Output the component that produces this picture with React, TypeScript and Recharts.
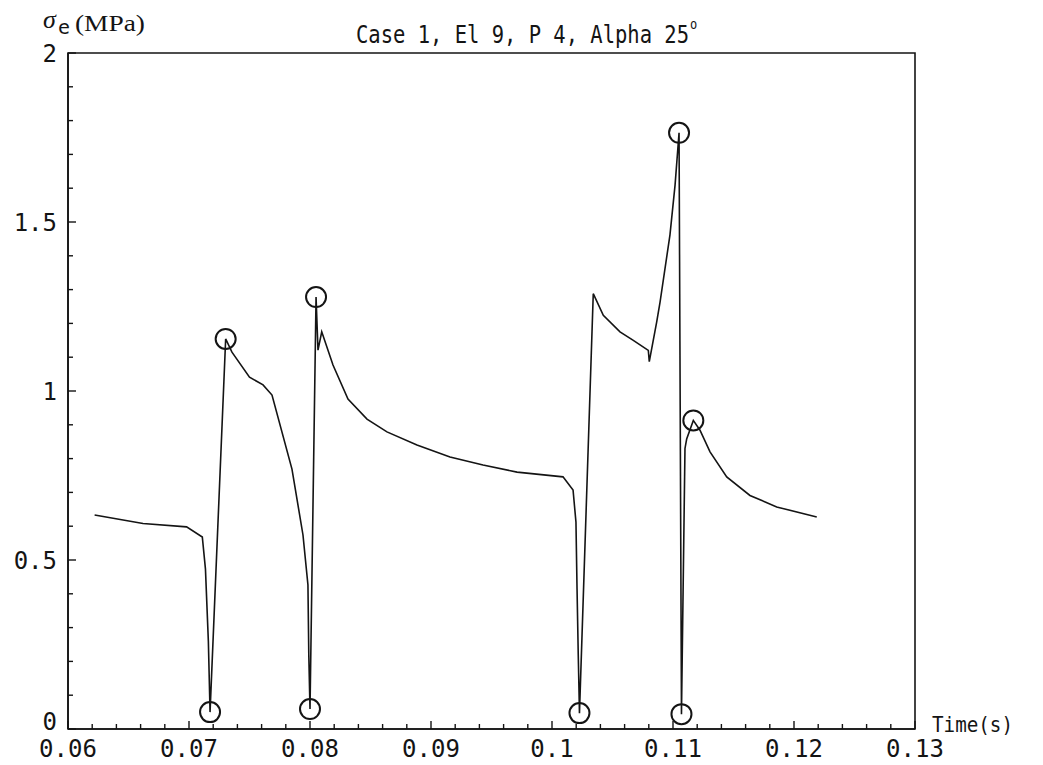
import React from 'react';
import {
  ComposedChart,
  Line,
  Scatter,
  XAxis,
  YAxis,
  ReferenceArea,
} from 'recharts';

// Effective stress history
const timeS = [
  0.0622, 0.0662, 0.0698, 0.0711, 0.07136, 0.0716, 0.07174, 0.07303, 0.07355, 0.075,
  0.07612, 0.07686, 0.07851, 0.07942, 0.07983, 0.0799, 0.08, 0.0805, 0.08066, 0.08097,
  0.0819, 0.08314, 0.08471, 0.08636, 0.08884, 0.09157, 0.0943, 0.09711, 0.10091, 0.10174,
  0.10198, 0.10207, 0.10217, 0.10227, 0.10341, 0.10424, 0.10562, 0.10672, 0.10796, 0.10804,
  0.10865, 0.10893, 0.10975, 0.11017, 0.1105, 0.1107, 0.11099, 0.11113, 0.11168, 0.11223,
  0.11306, 0.11444, 0.11636, 0.11857, 0.12188,
];
const stressMPa = [
  0.633, 0.608, 0.598, 0.568, 0.473, 0.26, 0.05, 1.154, 1.115, 1.041,
  1.018, 0.988, 0.769, 0.574, 0.426, 0.22, 0.059, 1.278, 1.121, 1.175,
  1.077, 0.976, 0.917, 0.879, 0.84, 0.805, 0.781, 0.76, 0.746, 0.707,
  0.612, 0.414, 0.219, 0.047, 1.288, 1.224, 1.175, 1.15, 1.12, 1.087,
  1.204, 1.263, 1.462, 1.609, 1.764, 0.044, 0.83, 0.858, 0.913, 0.884,
  0.82, 0.746, 0.691, 0.657, 0.627,
];

// Circled extremes
const markerT = [0.07174, 0.07303, 0.08, 0.0805, 0.10227, 0.1105, 0.1107, 0.11168];
const markerS = [0.05, 1.154, 0.059, 1.278, 0.047, 1.764, 0.044, 0.913];

const xMajorTicks = [0.06, 0.07, 0.08, 0.09, 0.1, 0.11, 0.12, 0.13];
const xTickLabels = ['0.06', '0.07', '0.08', '0.09', '0.1', '0.11', '0.12', '0.13'];
const yMajorTicks = [0, 0.5, 1, 1.5, 2];
const yTickLabels = ['0', '0.5', '1', '1.5', '2'];

const lineData = timeS.map((x, i) => ({ x, y: stressMPa[i] }));
const markerData = markerT.map((x, i) => ({ x, y: markerS[i] }));

// minor ticks: every 0.002 s on x, every 0.1 MPa on y
const xMinorTicks = Array.from({ length: 36 }, (_, i) => Math.round((0.06 + i * 0.002) * 1000) / 1000);
const yMinorTicks = Array.from({ length: 21 }, (_, i) => i / 10);

const MONO = '"DejaVu Sans Mono", monospace';
const INK = '#141414';

const XTick = (props: any) => {
  const { x, y, payload } = props;
  const v = payload.value;
  const idx = xMajorTicks.findIndex((m) => Math.abs(m - v) < 1e-9);
  const major = idx >= 0;
  return (
    <g>
      <line x1={x} x2={x} y1={y} y2={y - (major ? 8 : 5)} stroke={INK} strokeWidth={1.4} />
      {major && (
        <text x={x} y={y + 28} textAnchor="middle" fontFamily={MONO} fontSize={24} fill={INK}>
          {xTickLabels[idx]}
        </text>
      )}
    </g>
  );
};

const YTick = (props: any) => {
  const { x, y, payload } = props;
  const v = payload.value;
  const idx = yMajorTicks.findIndex((m) => Math.abs(m - v) < 1e-9);
  const major = idx >= 0;
  // the "0" label sits a little higher so it clears the 0.06 label
  const dy = v === 0 ? 1 : 9;
  return (
    <g>
      <line x1={x} x2={x + (major ? 8 : 5)} y1={y} y2={y} stroke={INK} strokeWidth={1.4} />
      {major && (
        <text x={x - 11} y={y + dy} textAnchor="end" fontFamily={MONO} fontSize={24} fill={INK}>
          {yTickLabels[idx]}
        </text>
      )}
    </g>
  );
};

const CircleMark = (props: any) => {
  const { cx, cy } = props;
  return <circle cx={cx} cy={cy} r={10} fill="none" stroke={INK} strokeWidth={2} />;
};

export default function App() {
  return (
    <div style={{ position: 'absolute', left: 0, top: 0, width: 1043, height: 765, background: '#fff' }}>
      <ComposedChart
        width={1043}
        height={765}
        margin={{ top: 53, right: 128, bottom: 6, left: 0 }}
      >
        <XAxis
          dataKey="x"
          type="number"
          domain={[0.06, 0.13]}
          ticks={xMinorTicks}
          interval={0}
          height={30}
          tickSize={0}
          tickMargin={0}
          tickLine={false}
          axisLine={{ stroke: INK, strokeWidth: 1.6 }}
          tick={<XTick />}
        />
        <YAxis
          dataKey="y"
          type="number"
          domain={[0, 2]}
          ticks={yMinorTicks}
          interval={0}
          width={68}
          tickSize={0}
          tickMargin={0}
          tickLine={false}
          axisLine={{ stroke: INK, strokeWidth: 1.6 }}
          tick={<YTick />}
        />
        <ReferenceArea
          x1={0.06}
          x2={0.13}
          y1={0}
          y2={2}
          fill="none"
          stroke={INK}
          strokeWidth={1.6}
          ifOverflow="visible"
        />
        <Line
          data={lineData}
          dataKey="y"
          type="linear"
          stroke={INK}
          strokeWidth={1.6}
          dot={false}
          activeDot={false}
          isAnimationActive={false}
        />
        <Scatter
          data={markerData}
          dataKey="y"
          shape={<CircleMark />}
          isAnimationActive={false}
        />
      </ComposedChart>
      <svg
        width={1043}
        height={765}
        style={{ position: 'absolute', left: 0, top: 0, pointerEvents: 'none' }}
      >
        <text transform="translate(356,43) scale(1,1.17)" x={0} y={0} fontFamily={MONO} fontSize={20.5} fill={INK}>
          Case 1, El 9, P 4, Alpha 25
          <tspan dx={1} dy={-12} fontSize={12}>o</tspan>
        </text>
        <text x={43} y={28} fontFamily='"Liberation Serif", serif' fontStyle="italic" fontSize={26} fill={INK}>σ</text>
        <text x={58} y={34} fontFamily={MONO} fontSize={20} fill={INK}>e</text>
        <text x={75} y={31} fontFamily='"Liberation Serif", serif' fontSize={24} fill={INK} textLength={70} lengthAdjust="spacingAndGlyphs">
          (MPa)
        </text>
        <text x={932} y={732} fontFamily={MONO} fontSize={22} fill={INK} textLength={81} lengthAdjust="spacingAndGlyphs">
          Time(s)
        </text>
      </svg>
    </div>
  );
}
